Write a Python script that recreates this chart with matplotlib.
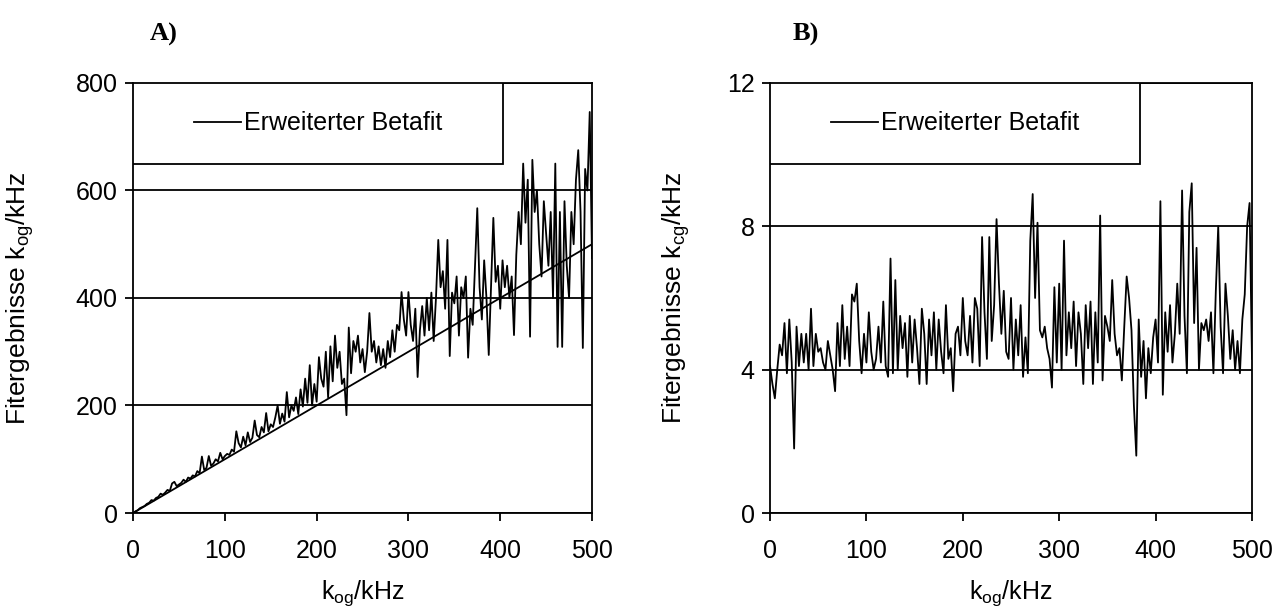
import numpy as np
import matplotlib
matplotlib.use('Agg')
import matplotlib.pyplot as plt
from matplotlib.patches import Rectangle

FONT_SIZE = 18
LABEL_SIZE = 19
plt.rc('font', family=['Liberation Sans', 'DejaVu Sans'], size=FONT_SIZE)
plt.rc('mathtext', fontset='custom', rm='Liberation Sans', it='Liberation Sans:italic')

# x axis: true k_og in kHz (steps of 2.5 kHz)
k_og = np.arange(0, 500.1, 2.5)

# panel A: fitted k_og values
fit_kog = [0, 3, 5, 9, 11, 13, 17, 19, 24, 23,
           28, 30, 36, 34, 38, 43, 41, 55, 58, 50,
           53, 56, 62, 58, 66, 64, 70, 68, 78, 74,
           105, 80, 84, 106, 88, 92, 100, 96, 112, 100,
           106, 110, 108, 118, 114, 152, 130, 122, 142, 126,
           150, 132, 140, 172, 145, 141, 160, 150, 186, 152,
           165, 160, 178, 200, 166, 185, 170, 225, 178, 200,
           190, 215, 184, 230, 198, 250, 205, 275, 200, 240,
           207, 290, 250, 235, 300, 215, 310, 245, 330, 270,
           300, 240, 250, 182, 345, 260, 320, 300, 330, 280,
           305, 262, 300, 372, 300, 320, 280, 310, 275, 305,
           270, 320, 290, 340, 300, 350, 340, 411, 360, 330,
           411, 350, 320, 380, 253, 340, 385, 330, 400, 340,
           410, 320, 400, 508, 420, 450, 380, 508, 292, 410,
           390, 440, 330, 420, 400, 440, 289, 380, 350, 460,
           567, 420, 360, 470, 400, 294, 420, 549, 430, 460,
           380, 470, 420, 460, 400, 440, 331, 480, 560, 500,
           650, 540, 620, 328, 657, 560, 600, 500, 440, 580,
           520, 460, 560, 400, 650, 309, 560, 309, 580, 460,
           400, 560, 500, 620, 675, 560, 307, 640, 600, 746,
           474]

# panel A: reference line (true value)
k_ref = [0, 500]
ref_kog = [0, 500]

# panel B: fitted k_cg values
fit_kcg = [4.1, 3.6, 3.2, 4.0, 4.7, 4.4, 5.3, 3.9, 5.4, 4.2,
           1.8, 5.2, 4.1, 5.0, 4.2, 5.0, 4.0, 5.7, 4.1, 5.0,
           4.5, 4.6, 4.2, 4.0, 4.8, 4.4, 4.0, 3.4, 5.3, 4.1,
           5.8, 4.3, 5.2, 4.1, 6.1, 5.9, 6.4, 4.8, 3.9, 5.0,
           4.2, 5.6, 4.5, 4.0, 4.3, 5.2, 4.2, 5.9, 4.1, 3.8,
           7.1, 3.9, 6.5, 4.0, 5.5, 4.6, 5.3, 3.8, 5.5, 4.2,
           5.4, 4.6, 3.6, 5.7, 5.0, 3.6, 5.4, 4.4, 5.6, 4.0,
           5.4, 4.5, 3.9, 5.8, 4.3, 4.6, 3.4, 5.0, 5.2, 4.4,
           6.0, 4.8, 4.4, 5.5, 4.2, 6.0, 5.7, 4.1, 7.7, 5.6,
           4.3, 7.7, 4.8, 5.8, 8.2, 6.4, 5.0, 6.2, 4.5, 4.3,
           6.0, 4.0, 5.4, 4.4, 5.8, 3.8, 4.9, 3.9, 7.6, 8.9,
           6.0, 8.1, 5.1, 4.9, 5.2, 4.6, 4.3, 3.5, 6.3, 4.2,
           6.4, 4.0, 7.6, 4.4, 5.6, 4.6, 5.9, 4.1, 5.6, 5.0,
           3.6, 5.8, 4.6, 5.9, 3.6, 5.6, 4.2, 8.3, 3.7, 5.5,
           5.2, 4.8, 6.5, 5.0, 4.4, 4.6, 3.7, 5.2, 6.6, 6.0,
           5.1, 3.0, 1.6, 5.4, 3.8, 4.8, 3.2, 4.6, 3.9, 4.9,
           5.4, 4.2, 8.7, 3.3, 5.6, 4.5, 5.8, 4.2, 5.0, 6.4,
           5.0, 9.0, 5.5, 3.9, 8.4, 9.2, 5.3, 7.4, 4.0, 5.3,
           5.1, 5.4, 4.8, 5.6, 3.9, 6.2, 8.0, 5.2, 3.9, 6.4,
           5.5, 4.3, 5.1, 4.0, 4.8, 3.9, 5.4, 6.1, 8.0, 8.65,
           4.3]

LW = 1.3
fig = plt.figure(figsize=(12.77, 6.1), dpi=100)

'''
A: k_og
'''
ax1 = fig.add_axes([0.1042, 0.159, 0.3594, 0.705])
ax1.plot(k_ref, ref_kog, '-', c='black', lw=LW)
l1, = ax1.plot(k_og, fit_kog, '-', c='black', lw=LW, label='Erweiterter Betafit')
ax1.set_xlim(0, 500)
ax1.set_ylim(0, 800)
ax1.set_xticks(np.arange(0, 501, 100))
ax1.set_yticks(np.arange(0, 801, 200))
ax1.set_xlabel(r'k$_{\mathrm{og}}$/kHz', fontsize=FONT_SIZE)
ax1.set_ylabel(r'Fitergebnisse k$_{\mathrm{og}}$/kHz', fontsize=LABEL_SIZE)
ax1.xaxis.set_label_coords(0.5, -0.152)
ax1.yaxis.set_label_coords(-0.211, 0.5)

'''
B: k_cg
'''
ax2 = fig.add_axes([0.603, 0.159, 0.3774, 0.705])
l2, = ax2.plot(k_og, fit_kcg, '-', c='black', lw=LW, label='Erweiterter Betafit')
ax2.set_xlim(0, 500)
ax2.set_ylim(0, 12)
ax2.set_xticks(np.arange(0, 501, 100))
ax2.set_yticks(np.arange(0, 13, 4))
ax2.set_xlabel(r'k$_{\mathrm{og}}$/kHz', fontsize=FONT_SIZE)
ax2.set_ylabel(r'Fitergebnisse k$_{\mathrm{cg}}$/kHz', fontsize=LABEL_SIZE)
ax2.xaxis.set_label_coords(0.5, -0.152)
ax2.yaxis.set_label_coords(-0.162, 0.5)

for ax, line, box_w in [(ax1, l1, 0.806), (ax2, l2, 0.768)]:
    ax.grid(axis='y', color='black', lw=LW)
    ax.set_axisbelow(True)
    for s in ax.spines.values():
        s.set_linewidth(LW)
    ax.tick_params(axis='x', direction='out', length=6, width=LW, pad=13)
    ax.tick_params(axis='y', direction='out', length=6, width=LW, pad=5)
    # legend box in the top left corner
    ax.add_patch(Rectangle((0, 0.8125), box_w, 0.1875, transform=ax.transAxes,
                           facecolor='white', edgecolor='black', lw=LW, zorder=5))
    leg = ax.legend(handles=[line], loc='center', bbox_to_anchor=(0, 0.8125, box_w, 0.1875),
                    frameon=False, handlelength=1.9, handletextpad=0.12, fontsize=FONT_SIZE)
    leg.set_zorder(6)

fig.text(150 / 1277, 1 - 34 / 610, 'A)', family='Liberation Serif', weight='bold', size=19, va='center')
fig.text(793 / 1277, 1 - 34 / 610, 'B)', family='Liberation Serif', weight='bold', size=19, va='center')

plt.savefig('out.png', dpi=100)
